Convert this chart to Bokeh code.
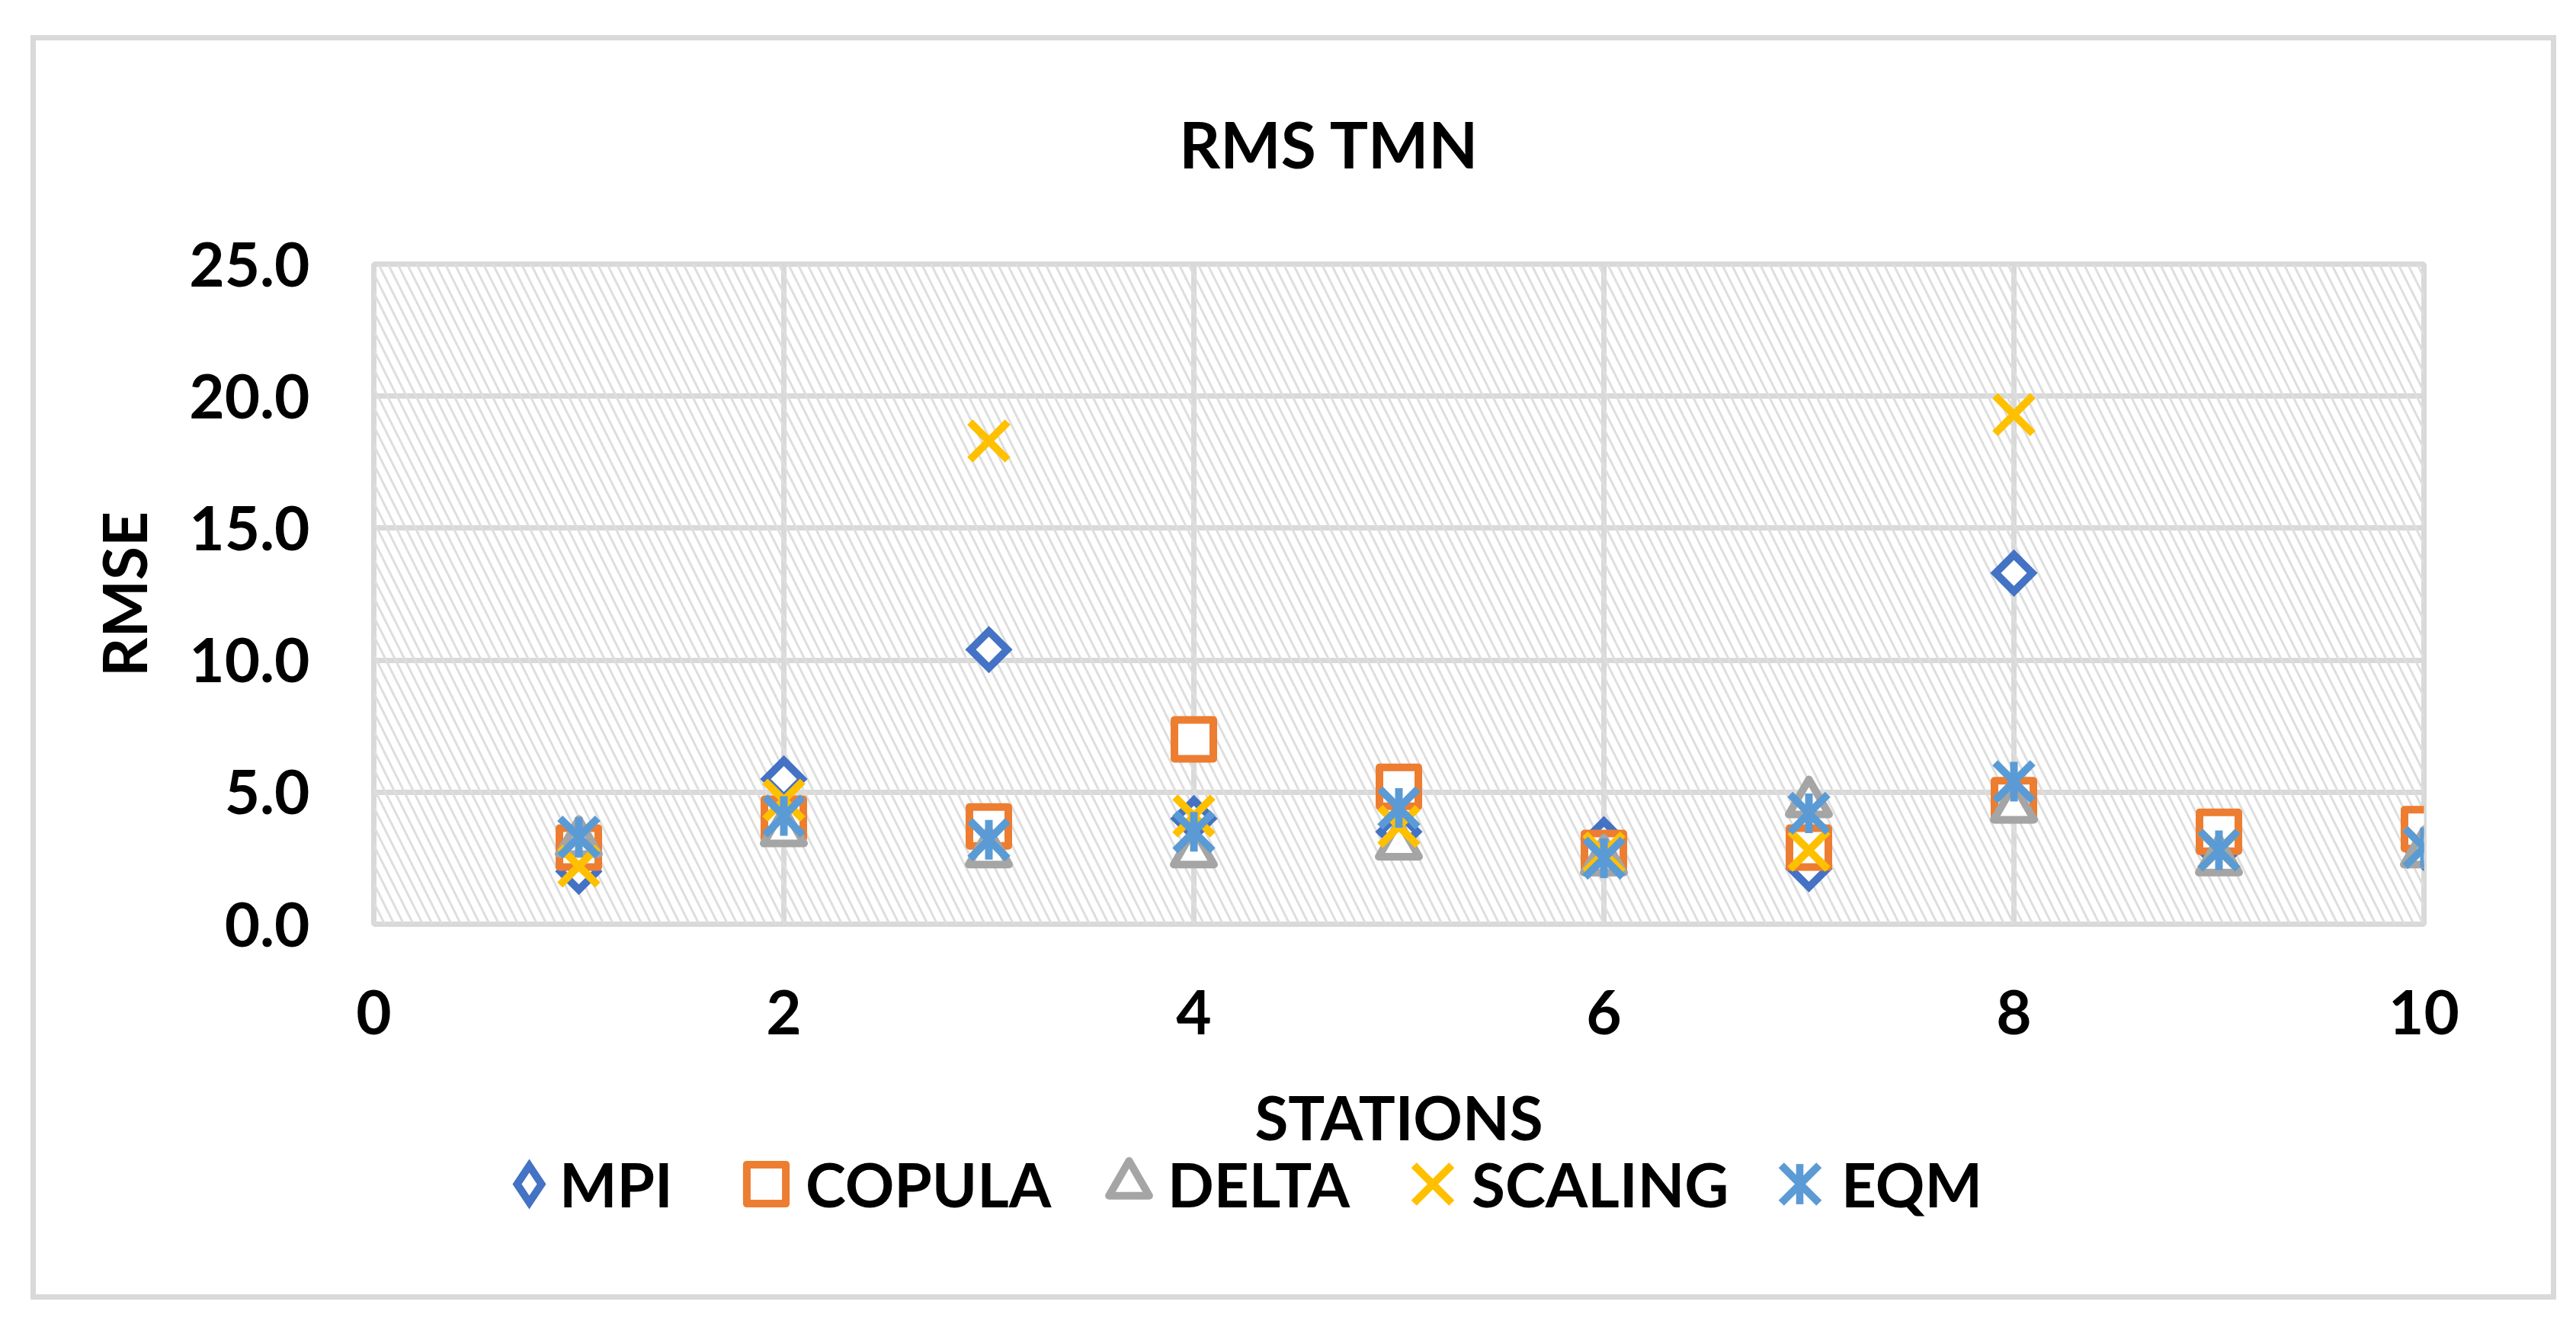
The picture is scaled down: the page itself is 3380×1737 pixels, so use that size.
import math
from bokeh.plotting import figure
from bokeh.layouts import column
from bokeh.core.properties import value
from bokeh.models import (Range1d, FixedTicker, BoxAnnotation, Label, Legend,
                          LegendItem, NumeralTickFormatter)
from bokeh.embed import file_html
from bokeh.resources import INLINE

# ---- data ----
stations = [1, 2, 3, 4, 5, 6, 7, 8, 9, 10]
mpi = [2.0, 5.5, 10.4, 4.0, 3.5, 3.2, 2.1, 13.3, 2.8, 2.9]
copula = [2.9, 4.0, 3.7, 7.0, 5.2, 2.7, 2.9, 4.7, 3.5, 3.6]
delta = [3.1, 3.5, 2.7, 2.7, 3.0, 2.4, 4.6, 4.4, 2.4, 2.7]
scaling = [2.2, 4.7, 18.3, 4.1, 3.7, 2.7, 2.8, 19.3, 2.8, 2.9]
eqm = [3.3, 4.1, 3.2, 3.5, 4.4, 2.5, 4.2, 5.4, 2.8, 2.9]
series_names = ["MPI", "COPULA", "DELTA", "SCALING", "EQM"]
x_ticks = [0, 2, 4, 6, 8, 10]
y_ticks = [0, 5, 10, 15, 20, 25]

FONT = "Lato"
FS = "80px"
C_MPI, C_COP, C_DEL, C_SCA, C_EQM = "#4472C4", "#ED7D31", "#A5A5A5", "#FFC000", "#5B9BD5"
LW = 10
S_MPI, S_COP, S_DEL, S_X, S_DASH = 34, 51, 53, 70, 52
NAN = float("nan")
W = 3300
BL, BR = 443, 167   # frame borders, shared by the three stacked strips


def strip(height, top=0, bottom=0):
    f = figure(width=W, height=height, output_backend="svg", toolbar_location=None,
               x_range=Range1d(0, 1), y_range=Range1d(0, 1),
               x_axis_type=None, y_axis_type=None,
               min_border_left=BL, min_border_right=BR,
               min_border_top=top, min_border_bottom=bottom,
               outline_line_color=None, background_fill_color="white",
               border_fill_color="white")
    f.grid.visible = False
    return f


# ---- title strip ----
t = strip(233)
t.add_layout(Label(x=1254, y=98, x_units="screen", y_units="screen", text="RMS TMN",
                   text_align="center", text_baseline="middle", text_font=FONT,
                   text_font_style="bold", text_font_size="84px", text_color="black"))

# ---- main plot ----
p = figure(width=W, height=1114, output_backend="svg", toolbar_location=None,
           x_range=Range1d(0, 10), y_range=Range1d(0, 25),
           min_border_left=BL, min_border_right=BR,
           min_border_top=60, min_border_bottom=188,
           background_fill_color="white", border_fill_color="white")
p.outline_line_color = "#d9d9d9"
p.outline_line_width = 7

p.add_layout(BoxAnnotation(fill_alpha=0, line_alpha=0, hatch_pattern="left_diagonal_line",
                           hatch_color="#dedede", hatch_scale=25, hatch_weight=3,
                           level="underlay"))

for ax, ticks in ((p.xaxis[0], x_ticks), (p.yaxis[0], y_ticks)):
    ax.ticker = FixedTicker(ticks=ticks)
    ax.axis_line_color = None
    ax.major_tick_line_color = None
    ax.minor_tick_line_color = None
    ax.major_tick_out = 0
    ax.major_tick_in = 0
    ax.major_label_text_font = FONT
    ax.major_label_text_font_style = "bold"
    ax.major_label_text_font_size = FS
    ax.major_label_text_color = "black"
p.xaxis.major_label_standoff = 86
p.yaxis.major_label_standoff = 84
p.yaxis.formatter = NumeralTickFormatter(format="0.0")
p.yaxis.axis_label = "RMSE"
p.yaxis.axis_label_standoff = 35
p.yaxis.axis_label_text_font = FONT
p.yaxis.axis_label_text_font_style = "bold"
p.yaxis.axis_label_text_font_size = FS
p.yaxis.axis_label_text_color = "black"

p.xgrid.ticker = FixedTicker(ticks=x_ticks)
p.ygrid.ticker = FixedTicker(ticks=y_ticks)
for g in (p.xgrid[0], p.ygrid[0]):
    g.grid_line_color = "#d9d9d9"
    g.grid_line_width = 7

p.scatter(stations, mpi, marker="square", size=S_MPI, angle=math.pi / 4,
          line_color=C_MPI, fill_color="white", line_width=LW, line_join="miter")
p.scatter(stations, copula, marker="square", size=S_COP,
          line_color=C_COP, fill_color="white", line_width=LW, line_join="round")
p.scatter(stations, delta, marker="triangle", size=S_DEL,
          line_color=C_DEL, fill_color="white", line_width=LW, line_join="round")
p.scatter(stations, scaling, marker="x", size=S_X, line_color=C_SCA, line_width=LW)
p.scatter(stations, eqm, marker="x", size=S_X, line_color=C_EQM, line_width=LW)
p.scatter(stations, eqm, marker="dash", size=S_DASH, angle=math.pi / 2,
          line_color=C_EQM, line_width=LW)

# ---- bottom strip: x axis title and legend ----
q = strip(298)
q.add_layout(Label(x=1345, y=234, x_units="screen", y_units="screen", text="STATIONS",
                   text_align="center", text_baseline="middle", text_font=FONT,
                   text_font_style="bold", text_font_size=FS, text_color="black"))

# legend sample glyphs (a single undrawn NaN point each; they only carry the styles)
g_mpi = q.scatter([NAN], [NAN], marker="diamond", size=48, line_color=C_MPI,
                  fill_color="white", line_width=LW, line_join="miter")
g_cop = q.scatter([NAN], [NAN], marker="square", size=S_COP, line_color=C_COP,
                  fill_color="white", line_width=LW, line_join="round")
g_del = q.scatter([NAN], [NAN], marker="triangle", size=S_DEL, line_color=C_DEL,
                  fill_color="white", line_width=LW, line_join="round")
g_sca = q.scatter([NAN], [NAN], marker="x", size=S_X, line_color=C_SCA, line_width=LW)
g_eqx = q.scatter([NAN], [NAN], marker="x", size=S_X, line_color=C_EQM, line_width=LW)
g_eqb = q.vbar(x=[NAN], top=[NAN], width=0.1, fill_color=C_EQM, line_color=None)
g_txt = q.scatter([NAN], [NAN], alpha=0)

FL = 490   # page x of the frames' left edge
GH = 200
CY = 145
glyph_specs = [  # renderer, glyph box width, glyph box height, glyph centre x
    (g_mpi, 120, GH, 694),
    (g_cop, 128, GH, 1005),
    (g_del, 132, GH, 1481),
    (g_sca, 175, GH, 1880),
    (g_eqx, 175, GH, 2361),
    (g_eqb, 12, 66, 2361),
]
for r, gw, gh, cx in glyph_specs:
    q.add_layout(Legend(items=[LegendItem(label=value(""), renderers=[r])],
                        location=(int(round(cx - gw / 2 - FL)), int(round(CY - gh / 2))),
                        glyph_width=gw, glyph_height=gh, label_standoff=0,
                        label_text_font_size="1px", label_height=0, label_width=0,
                        padding=0, margin=0, spacing=0,
                        background_fill_alpha=0, border_line_alpha=0), "center")

text_x = [733, 1056, 1531, 1930, 2415]
for name, tx in zip(series_names, text_x):
    q.add_layout(Legend(items=[LegendItem(label=value(name), renderers=[g_txt])],
                        location=(tx - FL, CY - GH // 2),
                        glyph_width=1, glyph_height=GH, label_standoff=0,
                        label_text_font=FONT, label_text_font_style="bold",
                        label_text_font_size=FS, label_text_color="black",
                        label_text_baseline="middle",
                        padding=0, margin=0, spacing=0,
                        background_fill_alpha=0, border_line_alpha=0), "center")

layout = column(t, p, q, spacing=0)
layout.margin = (53, 0, 0, 47)
layout.styles = {"box-shadow": "0 0 0 7px #d9d9d9"}

open("out.html", "w").write(file_html(layout, INLINE))
